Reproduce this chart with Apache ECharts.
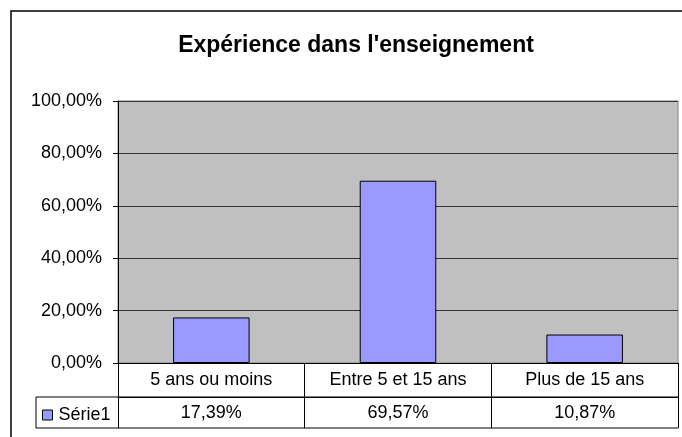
<!doctype html>
<html>
<head>
    <meta charset="utf-8">
    <title>Expérience dans l'enseignement</title>
    <script src="https://cdn.jsdelivr.net/npm/echarts@6/dist/echarts.min.js"></script>
</head>
<body style="margin:0">

    <div id="main" style="width:682px;height:437px;"></div>

    <script type="text/javascript">
        var categories = ['5 ans ou moins', 'Entre 5 et 15 ans', 'Plus de 15 ans'];
        var values = [17.39, 69.57, 10.87];
        var seriesName = 'Série1';
        var yTicks = [0, 20, 40, 60, 80, 100];

        function pct(v) {
            return v.toFixed(2).replace('.', ',') + '%';
        }

        var FONT = 'Liberation Sans';
        var FS = 18;
        // plot area (Excel-like layout)
        var G = {left: 118, top: 101, width: 560, height: 262};
        var bottom = G.top + G.height;
        var row1 = 34, row2 = 31;

        var chart = echarts.init(document.getElementById('main'));

        var option = {
            animation: false,
            backgroundColor: '#fff',
            title: {
                text: "Expérience dans l'enseignement",
                left: 351,
                textAlign: 'center',
                top: 29,
                textStyle: {fontFamily: FONT, fontSize: 23, fontWeight: 'bold', color: '#000'}
            },
            legend: {
                data: [seriesName],
                left: 37,
                top: bottom + row1 + 4,
                icon: 'rect',
                itemWidth: 10,
                itemHeight: 10,
                itemGap: 5,
                itemStyle: {borderColor: '#000', borderWidth: 1},
                textStyle: {fontFamily: FONT, fontSize: FS, color: '#000', padding: [0, 0, 0, 1]}
            },
            grid: {
                left: G.left, top: G.top, width: G.width, height: G.height,
                show: true,
                backgroundColor: '#c0c0c0',
                borderColor: '#808080',
                borderWidth: 1
            },
            xAxis: [{
                type: 'category',
                data: categories,
                position: 'bottom',
                axisLine: {lineStyle: {color: '#000', width: 1}},
                axisTick: {show: true, length: row1 + row2, interval: 0, lineStyle: {color: '#000'}},
                axisLabel: {
                    margin: 8, interval: 0,
                    fontFamily: FONT, fontSize: FS, color: '#000'
                },
                splitLine: {show: false}
            }, {
                type: 'category',
                data: categories,
                position: 'bottom',
                offset: row1,
                axisLine: {lineStyle: {color: '#000', width: 1}},
                axisTick: {show: false},
                axisLabel: {
                    margin: 7, interval: 0,
                    fontFamily: FONT, fontSize: FS, color: '#000',
                    formatter: function (val, idx) { return pct(values[idx]); }
                }
            }],
            yAxis: {
                type: 'value',
                min: yTicks[0],
                max: yTicks[yTicks.length - 1],
                interval: 20,
                axisLine: {show: true, lineStyle: {color: '#000'}},
                axisTick: {show: true, length: 5, lineStyle: {color: '#000'}},
                axisLabel: {
                    margin: 16,
                    fontFamily: FONT, fontSize: FS, color: '#000',
                    formatter: function (v) { return pct(v); }
                },
                splitLine: {show: true, lineStyle: {color: '#333', width: 1}}
            },
            series: [{
                name: seriesName,
                type: 'bar',
                data: values,
                barWidth: '41%',
                itemStyle: {color: '#9999ff', borderColor: '#000', borderWidth: 1}
            }],
            graphic: [
                // outer chart border (right/bottom edges fall outside the picture)
                {type: 'rect', shape: {x: 11, y: 11, width: 700, height: 460},
                 style: {fill: null, stroke: '#000', lineWidth: 1.5}, silent: true},
                // data table, legend cell
                {type: 'line', shape: {x1: 36, y1: bottom + row1, x2: G.left + G.width, y2: bottom + row1},
                 style: {stroke: '#000', lineWidth: 1}},
                {type: 'line', shape: {x1: 36, y1: bottom + row1 + row2, x2: G.left + G.width, y2: bottom + row1 + row2},
                 style: {stroke: '#000', lineWidth: 1}},
                {type: 'line', shape: {x1: 36, y1: bottom + row1, x2: 36, y2: bottom + row1 + row2},
                 style: {stroke: '#000', lineWidth: 1}}
            ]
        };

        chart.setOption(option);
    </script>
</body>
</html>
